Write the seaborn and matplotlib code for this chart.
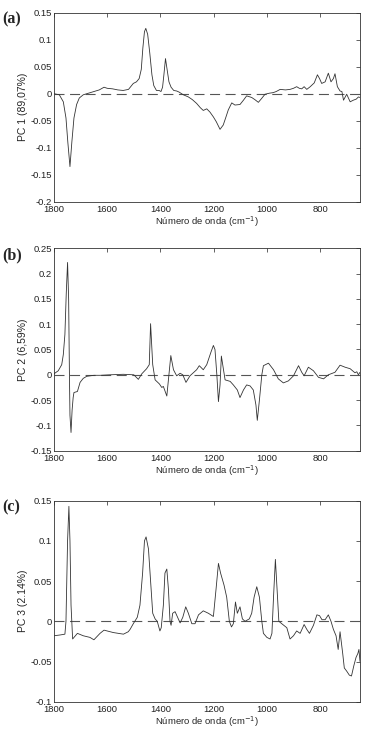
import numpy as np
import matplotlib
matplotlib.use("Agg")
import matplotlib.pyplot as plt
import seaborn as sns

# PC 1 loadings (a)
wn_a = [1800, 1780, 1765, 1755, 1748, 1740, 1733, 1725, 1715, 1705, 1690, 1670,
        1650, 1630, 1612, 1600, 1580, 1560, 1540, 1520, 1502, 1490, 1480, 1472,
        1466, 1460, 1455, 1448, 1440, 1432, 1425, 1415, 1405, 1398, 1392, 1387,
        1381, 1375, 1368, 1360, 1350, 1339, 1330, 1314, 1295, 1280, 1264, 1250,
        1239, 1226, 1214, 1201, 1190, 1176, 1164, 1155, 1145, 1132, 1120, 1101,
        1088, 1076, 1057, 1045, 1032, 1020, 1007, 990, 976, 965, 950, 930, 913,
        900, 888, 878, 869, 860, 850, 837, 822, 810, 802, 794, 781, 769, 759,
        750, 744, 735, 725, 718, 712, 700, 687, 675, 664, 656, 650]
pc_a = [0.0, -0.002, -0.015, -0.045, -0.09, -0.135, -0.09, -0.045, -0.02, -0.008,
        -0.002, 0.001, 0.004, 0.007, 0.012, 0.010, 0.009, 0.007, 0.006, 0.008,
        0.019, 0.022, 0.028, 0.045, 0.085, 0.115, 0.121, 0.11, 0.075, 0.035,
        0.015, 0.006, 0.006, 0.004, 0.012, 0.035, 0.065, 0.045, 0.022, 0.012,
        0.006, 0.005, 0.003, -0.002, -0.006, -0.011, -0.018, -0.026, -0.031,
        -0.028, -0.034, -0.043, -0.052, -0.066, -0.058, -0.045, -0.030, -0.017,
        -0.021, -0.020, -0.012, -0.004, -0.007, -0.011, -0.016, -0.009, -0.001,
        0.001, 0.002, 0.004, 0.008, 0.007, 0.008, 0.010, 0.013, 0.010, 0.009,
        0.013, 0.008, 0.013, 0.020, 0.035, 0.028, 0.019, 0.022, 0.038, 0.022,
        0.028, 0.037, 0.013, 0.005, 0.004, -0.012, -0.001, -0.015, -0.012,
        -0.010, -0.006, -0.007]

# PC 2 loadings (b)
wn_b = [1800, 1784, 1771, 1765, 1759, 1754, 1749, 1745, 1742, 1740, 1736, 1732,
        1728, 1725, 1712, 1702, 1690, 1677, 1650, 1627, 1590, 1540, 1500, 1483,
        1470, 1452, 1442, 1437, 1432, 1429, 1420, 1410, 1404, 1395, 1389, 1376,
        1370, 1361, 1351, 1339, 1326, 1316, 1304, 1289, 1264, 1254, 1239, 1226,
        1210, 1201, 1195, 1188, 1182, 1176, 1171, 1163, 1157, 1138, 1126, 1111,
        1101, 1088, 1076, 1063, 1051, 1041, 1036, 1028, 1019, 1013, 994, 975,
        957, 938, 919, 900, 881, 869, 860, 844, 825, 806, 787, 769, 744, 725,
        706, 687, 669, 662, 656, 650]
pc_b = [0.002, 0.008, 0.02, 0.04, 0.08, 0.16, 0.222, 0.15, 0.0, -0.08, -0.114,
        -0.07, -0.045, -0.035, -0.033, -0.015, -0.007, -0.003, -0.001, -0.001,
        0.0, 0.001, 0.0, -0.009, 0.002, 0.012, 0.02, 0.101, 0.05, 0.02, -0.01,
        -0.015, -0.018, -0.025, -0.023, -0.042, -0.01, 0.038, 0.01, -0.002,
        0.003, 0.0, -0.015, -0.002, 0.01, 0.018, 0.01, 0.02, 0.045, 0.058, 0.05,
        0.0, -0.053, -0.02, 0.037, 0.01, -0.01, -0.013, -0.02, -0.03, -0.045,
        -0.03, -0.02, -0.022, -0.03, -0.06, -0.09, -0.05, 0.0, 0.018, 0.023,
        0.01, -0.008, -0.016, -0.012, -0.002, 0.018, 0.005, -0.002, 0.015,
        0.008, -0.005, -0.008, 0.0, 0.005, 0.019, 0.015, 0.012, 0.004, 0.006,
        0.0, 0.005]

# PC 3 loadings (c)
wn_c = [1800, 1777, 1759, 1755, 1752, 1749, 1744, 1740, 1736, 1730, 1712, 1690,
        1665, 1650, 1627, 1612, 1577, 1539, 1521, 1514, 1502, 1487, 1477, 1467,
        1460, 1454, 1445, 1437, 1429, 1420, 1412, 1402, 1397, 1389, 1383, 1376,
        1370, 1364, 1360, 1354, 1345, 1326, 1316, 1305, 1295, 1282, 1270, 1257,
        1239, 1220, 1201, 1191, 1182, 1174, 1161, 1151, 1141, 1133, 1126, 1118,
        1111, 1101, 1092, 1082, 1066, 1057, 1048, 1038, 1028, 1019, 1013, 1000,
        988, 981, 975, 968, 960, 955, 944, 925, 913, 900, 888, 875, 860, 850,
        840, 825, 812, 802, 793, 781, 769, 759, 750, 740, 732, 725, 715, 709,
        700, 690, 682, 673, 665, 658, 654, 650]
pc_c = [-0.018, -0.017, -0.016, 0.0, 0.05, 0.10, 0.143, 0.10, 0.02, -0.022,
        -0.015, -0.018, -0.02, -0.023, -0.015, -0.011, -0.014, -0.016, -0.013,
        -0.01, -0.003, 0.005, 0.02, 0.06, 0.10, 0.105, 0.09, 0.05, 0.01, 0.003,
        0.0, -0.012, -0.008, 0.02, 0.06, 0.065, 0.04, 0.0, -0.005, 0.01, 0.012,
        -0.002, 0.005, 0.018, 0.01, -0.003, -0.003, 0.008, 0.013, 0.01, 0.006,
        0.04, 0.072, 0.06, 0.045, 0.03, 0.0, -0.007, -0.003, 0.024, 0.01, 0.018,
        0.003, 0.0, 0.003, 0.01, 0.03, 0.043, 0.03, 0.0, -0.015, -0.02, -0.022,
        -0.015, 0.03, 0.077, 0.03, 0.0, -0.003, -0.008, -0.022, -0.018, -0.012,
        -0.015, -0.004, -0.01, -0.015, -0.005, 0.008, 0.007, 0.002, 0.002,
        0.008, 0.0, -0.01, -0.018, -0.035, -0.013, -0.04, -0.058, -0.062,
        -0.067, -0.068, -0.055, -0.045, -0.04, -0.035, -0.05]

panels = [
    ("(a)", "PC 1 (89,07%)", wn_a, pc_a, (-0.2, 0.15), np.arange(-0.2, 0.151, 0.05)),
    ("(b)", "PC 2 (6,59%)", wn_b, pc_b, (-0.15, 0.25), np.arange(-0.15, 0.251, 0.05)),
    ("(c)", "PC 3 (2.14%)", wn_c, pc_c, (-0.1, 0.15), np.arange(-0.1, 0.151, 0.05)),
]

sns.set_style("white")
plt.rcParams['font.family'] = ['Liberation Sans', 'DejaVu Sans']

fig = plt.figure(figsize=(3.76, 7.29), dpi=100)
W, H = 376.0, 729.0
# axes boxes in pixels: left, top, right, bottom
boxes = [(54, 12.7, 360, 201.7), (54, 248.3, 360, 450.7), (54, 500.7, 360, 701.7)]

def fmt(v):
    s = ("%.2f" % v).rstrip("0").rstrip(".")
    if s in ("-0", "0."):
        s = "0"
    return s

for (tag, ylab, wn, pc, ylim, yt), (l, t, r, b) in zip(panels, boxes):
    ax = fig.add_axes([l / W, 1 - b / H, (r - l) / W, (b - t) / H])
    ax.axhline(0, color="#555555", lw=0.8, ls=(0, (9, 5)))
    sns.lineplot(x=wn, y=pc, ax=ax, color="#333333", lw=0.6, sort=False)
    ax.set_xlim(1800, 650)
    ax.set_ylim(*ylim)
    ax.set_xticks([1800, 1600, 1400, 1200, 1000, 800])
    ax.set_xticklabels(["1800", "1600", "1400", "1200", "1000", "800"])
    ax.set_yticks(yt)
    ax.set_yticklabels([fmt(v) for v in yt])
    ax.tick_params(direction="in", length=3, width=0.5, labelsize=6.8,
                   top=True, right=True, pad=1.5, colors="#222222")
    ax.tick_params(axis="x", pad=2.5)
    for s in ax.spines.values():
        s.set_linewidth(0.6)
        s.set_color("#333333")
    ax.set_xlabel("Número de onda (cm$^{-1}$)", fontsize=6.8, labelpad=0.3)
    ax.set_ylabel(ylab, fontsize=7.5, labelpad=2)
    fig.text(2 / W, 1 - (t + 7) / H, tag, family="Liberation Serif",
             fontweight="bold", fontsize=11.5, va="center", ha="left")

fig.savefig("out.png", dpi=100)
